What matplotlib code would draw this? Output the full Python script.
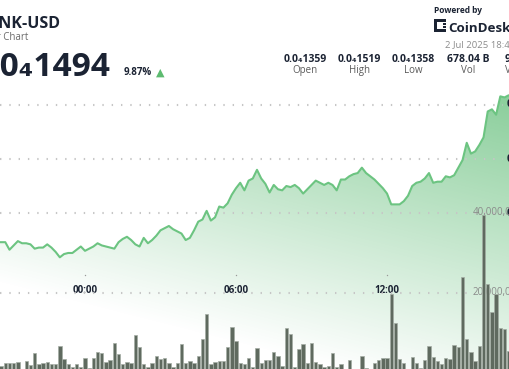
import numpy as np
import matplotlib
matplotlib.use("Agg")
import matplotlib.pyplot as plt
from matplotlib.patches import Polygon, Rectangle

plt.rcParams["font.family"] = ["Open Sans", "DejaVu Sans"]
plt.rcParams["lines.scale_dashes"] = False

# ============================================================
# Data: 10-minute steps, step 0 = 00:00 (price in 1e-8 USD, volume in millions)
# ============================================================
steps = np.arange(-21, 103)
price = [
    1373, 1373, 1373, 1366, 1370, 1374, 1372, 1372, 1371, 1367, 1368, 1368,
    1371, 1368, 1364, 1359, 1362, 1363, 1363, 1366, 1369,
    1365, 1367, 1369, 1372, 1370, 1369, 1368, 1367, 1373, 1376,
    1378, 1375, 1371, 1369, 1377, 1372, 1375, 1379, 1384, 1386,
    1388, 1385, 1383, 1381, 1375, 1377, 1384, 1392, 1394, 1402,
    1393, 1396, 1406, 1405, 1409, 1417, 1423, 1428, 1421, 1430,
    1432, 1440, 1432, 1427, 1419, 1426, 1422, 1421, 1425, 1424,
    1426, 1423, 1418, 1422, 1426, 1430, 1428, 1426, 1428, 1426,
    1421, 1431, 1431, 1434, 1436, 1437, 1442, 1437, 1434, 1431,
    1427, 1423, 1418, 1408, 1408, 1408, 1411, 1416, 1425, 1428,
    1429, 1432, 1437, 1428, 1429, 1429, 1434, 1433, 1435, 1442,
    1449, 1465, 1455, 1457, 1463, 1470, 1494, 1496, 1491, 1508,
    1507, 1509, 1508,
]
volume = [
    2.0, 1.8, 2.4, 2.6, 2.6, 2.7, 0.5, 3.0, 2.0, 5.1, 2.2, 2.4, 2.8, 2.3,
    2.3, 6.8, 3.4, 2.3, 1.6, 2.3, 1.6,
    3.7, 1.3, 3.7, 5.3, 5.1, 2.7, 3.2, 7.6, 4.75, 2.2,
    2.8, 2.6, 9.5, 6.4, 2.2, 1.6, 2.4, 4.25, 3.4, 3.8,
    2.6, 1.5, 2.4, 7.2, 2.6, 3.1, 2.6, 4.25, 8.5, 14.7,
    2.2, 2.8, 3.1, 3.1, 6.6, 11.6, 8.1, 2.4, 2.2, 3.7,
    1.6, 6.3, 2.6, 3.3, 3.2, 5.2, 4.25, 1.8, 11.2, 9.7,
    1.6, 5.9, 7.2, 2.4, 7.6, 2.7, 2.2, 1.4, 1.8, 4.9,
    1.4, 2.3, 0.6, 3.25, 0.5, 0.5, 4.25, 1.25, 0.6, 2.4,
    3.25, 3.8, 3.8, 19.7, 12.4, 3.6, 2.4, 0.5, 4.1, 2.4,
    1.25, 3.25, 6.75, 3.9, 2.9, 2.25, 3.8, 3.6, 7.0, 6.6,
    23.9, 8.4, 5.2, 3.1, 6.8, 39.5, 22.25, 15.3, 19.75, 11.3,
    10.9, 5.6, 13.4,
]

time_ticks = [0, 36, 72]
time_labels = ["00:00", "06:00", "12:00"]
price_grid = [1400, 1450, 1500]
price_grid_labels = ["0.0₄140", "0.0₄145", "0.0₄150"]
vol_grid = [20, 40]
vol_grid_labels = ["20,000,000", "40,000,000"]

stat_values = ["0.0₄1359", "0.0₄1519", "0.0₄1358", "678.04 B"]
stat_names = ["Open", "High", "Low", "Vol"]

W, H = 510, 369
DARK = "#1b2333"
GREEN = "#6cc481"


def fx(x):
    return x / W


def fy(y):
    return 1 - y / H


fig = plt.figure(figsize=(5.1, 3.69), dpi=100)
fig.patch.set_facecolor("white")

# ============================================================
# Price area
# ============================================================
ax = fig.add_axes([0, 0, 1, 1])
ax.set_xlim(-20.26, 101.31)
ax.set_ylim(1255.6, 1597.2)
ax.axis("off")

for p in price_grid:
    ax.hlines(p, 0, 0.986, transform=ax.get_yaxis_transform(),
              colors="#c6c6c6", lw=1.5, linestyles=(0, (1.0, 5.7)), zorder=2)

# gradient fill under the line
yy, xx = np.mgrid[0:H, 0:W]
alpha = np.clip(0.708 + 0.000633 * xx - 0.0025 * yy, 0, 0.85)
img = np.zeros((H, W, 4))
img[..., 0] = 0x6b / 255
img[..., 1] = 0xc2 / 255
img[..., 2] = 0x80 / 255
img[..., 3] = alpha
verts = [(steps[0], 1255.6)] + list(zip(steps, price)) + [(steps[-1], 1255.6)]
poly = Polygon(verts, closed=True, facecolor="none", edgecolor="none")
ax.add_patch(poly)
im = ax.imshow(img, extent=[-20.26, 101.31, 1255.6, 1597.2], origin="upper",
               aspect="auto", interpolation="bilinear", zorder=1)
im.set_clip_path(poly)

ax.plot(steps, price, color=GREEN, lw=1.5, zorder=4, solid_joinstyle="round")

for p, lab in zip(price_grid, price_grid_labels):
    ax.text(fx(507), p, lab, transform=ax.get_yaxis_transform(), ha="left",
            va="center", fontsize=8, fontweight="bold", color=DARK)

# time axis labels
xt = ax.get_xaxis_transform()
ax.plot(time_ticks, [fy(275)] * 3, transform=xt, ls="none", marker="o",
        ms=1.0, color="#999999", mew=0, zorder=5)
for t, lab in zip(time_ticks, time_labels):
    ax.text(t, fy(293), lab, transform=xt, ha="center", va="baseline",
            fontsize=7, fontweight="bold", color=DARK, zorder=5)

# ============================================================
# Volume bars
# ============================================================
vax = fig.add_axes([0, 0, 1, 1])
vax.set_xlim(-20.26, 101.31)
vax.set_ylim(1, 93.25)
vax.patch.set_visible(False)
vax.axis("off")

vax.hlines(vol_grid[0], 0, fx(468), transform=vax.get_yaxis_transform(),
           colors="#c6c6c6", lw=1.5, linestyles=(0, (1.0, 5.7)), zorder=1)
for v, lab in zip(vol_grid, vol_grid_labels):
    vax.text(fx(473), v, lab, transform=vax.get_yaxis_transform(), ha="left",
             va="center", fontsize=7, color="#8a8a8a", zorder=1)

vax.bar(steps, volume, width=0.8, color="#5f6a5f", edgecolor="#a4ada4",
        linewidth=0.5, zorder=3)

# ============================================================
# Header
# ============================================================
fig.text(fx(61), fy(28), "BONK-USD", ha="right", va="baseline",
         fontsize=11.5, fontweight="bold", color=DARK)
fig.text(fx(28.5), fy(40), "24 Hour Chart", ha="right", va="baseline",
         fontsize=7, color="#6a6a6a")
fig.text(fx(111), fy(76), "0.0₄1494", ha="right", va="baseline",
         fontsize=24, fontweight="bold", color=DARK)
fig.text(fx(124), fy(75), "9.87%", ha="left", va="baseline",
         fontsize=7, fontweight="bold", color=DARK)
fig.text(fx(160), fy(76), "▲", ha="center", va="baseline",
         fontsize=8, color="#5dbb70", family=["DejaVu Sans"])

fig.text(fx(434), fy(13), "Powered by", ha="left", va="baseline",
         fontsize=6, fontweight="bold", color=DARK)
# CoinDesk mark
for (x0, y0, w, h) in [(434, 19, 3, 13), (437, 19, 9, 3), (437, 29, 9, 3),
                       (443, 23, 3, 2), (443, 26, 3, 2)]:
    fig.add_artist(Rectangle((fx(x0), fy(y0 + h)), w / W, h / H,
                             transform=fig.transFigure, color=DARK, lw=0))
fig.text(fx(448.5), fy(31.5), "CoinDesk", ha="left", va="baseline",
         fontsize=9.6, fontweight="bold", color=DARK)
fig.text(fx(445), fy(47), "2 Jul 2025 18:42", ha="left", va="baseline",
         fontsize=6.8, color="#8c8c8c")

for cx, val, name in zip([305, 359, 413, 468], stat_values, stat_names):
    fig.text(fx(cx), fy(62), val, ha="center", va="baseline",
             fontsize=7.5, fontweight="bold", color=DARK)
    fig.text(fx(cx), fy(73), name, ha="center", va="baseline",
             fontsize=7, color="#5a5a5a")
fig.text(fx(505), fy(62), "9.87 M", ha="left", va="baseline",
         fontsize=7.5, fontweight="bold", color=DARK)
fig.text(fx(505), fy(73), "Vol (USD)", ha="left", va="baseline",
         fontsize=7, color="#5a5a5a")

fig.savefig("out.png", dpi=100, facecolor="white")
